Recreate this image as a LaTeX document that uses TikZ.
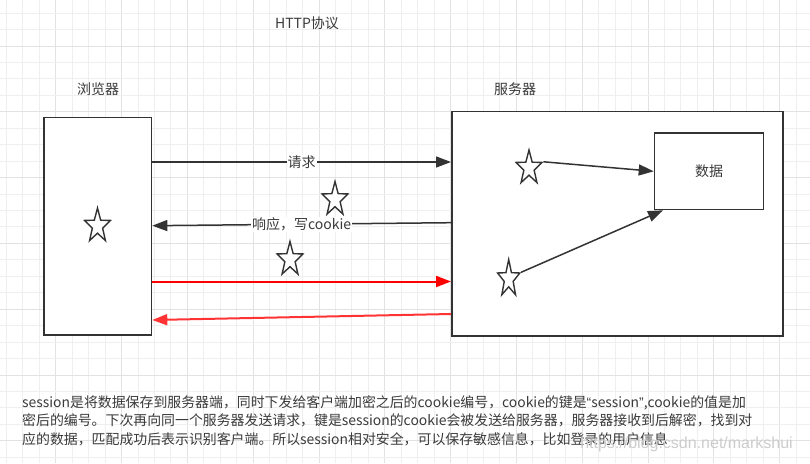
\documentclass[tikz,border=0pt]{standalone}
\usepackage{fontspec}
\setmainfont{Noto Sans CJK SC}
\newfontfamily\wmfont{Liberation Sans}
\usetikzlibrary{shapes.geometric, arrows.meta}
\definecolor{ink}{HTML}{333333}
\definecolor{txt}{HTML}{3A3A3A}
\definecolor{gridminor}{HTML}{EFEFEF}
\definecolor{gridmajor}{HTML}{E2E2E2}
\definecolor{redline}{HTML}{FF0000}
\definecolor{redline2}{HTML}{FF3333}
\tikzset{
  box/.style={draw=ink, line width=1.6pt, fill=white, inner sep=0pt},
  starnode/.style={star, star points=5, star point ratio=2.5, draw=ink, fill=white,
     line width=1.4pt, minimum size=36pt, inner sep=0pt, xscale=0.75},
  arr/.style={draw=ink, line width=1.5pt, -{Triangle[length=15pt, width=11pt]}},
  redarr/.style={color=redline, draw=redline, line width=2pt, -{Triangle[length=15pt, width=11pt]}},
  lbl/.style={text=txt, font=\fontsize{14}{16}\selectfont, inner sep=1pt},
  onlbl/.style={lbl, fill=white},
  para/.style={text=txt, font=\fontsize{13.9}{16}\selectfont, anchor=west, inner sep=0pt},
}
\begin{document}
\begin{tikzpicture}[x=1pt, y=-1pt]
\useasboundingbox (0,0) rectangle (810,463);
\fill[white] (0,0) rectangle (810,463);
% grid
\foreach \i in {0,...,49}{
  \pgfmathsetmacro{\gx}{6.35+\i*16.45}
  \pgfmathtruncatemacro{\m}{mod(\i,4)==3}
  \ifnum\m=1 \draw[gridmajor, line width=0.8pt] (\gx,0) -- (\gx,463);
  \else \draw[gridminor, line width=0.8pt] (\gx,0) -- (\gx,463); \fi
}
\foreach \j in {0,...,28}{
  \pgfmathsetmacro{\gy}{13+\j*16.45}
  \pgfmathtruncatemacro{\m}{mod(\j,4)==2}
  \ifnum\m=1 \draw[gridmajor, line width=0.8pt] (0,\gy) -- (810,\gy);
  \else \draw[gridminor, line width=0.8pt] (0,\gy) -- (810,\gy); \fi
}
% titles
\node[lbl] (title) at (307,23) {HTTP协议};
\node[lbl] (lbrowser) at (98,89) {浏览器};
\node[lbl] (lserver) at (515,89) {服务器};
% boxes
\node[box, anchor=north west, minimum width=107.4pt, minimum height=217.3pt] (browser) at (43.3,116.7) {};
\node[box, anchor=north west, minimum width=331.3pt, minimum height=224.3pt] (server) at (451,110.7) {};
\node[box, anchor=north west, minimum width=109pt, minimum height=76.4pt, lbl, inner sep=0pt] (data) at (653.7,132.3) {数据};
% stars
\node[starnode] (sb) at (97.5,226) {};
\node[starnode] (sm1) at (335,199.5) {};
\node[starnode] (sm2) at (290,259.5) {};
\node[starnode] (ss1) at (529,168) {};
\node[starnode, minimum size=39pt, xscale=0.8] (ss2) at (508.7,279) {};
% arrows between browser and server
\draw[arr] ([yshift=-45.3pt]browser.north east) -- node[onlbl] (lreq) {请求} ([yshift=-51.3pt]server.north west);
\draw[arr] ([yshift=-112pt]server.north west) -- node[onlbl, pos=0.5] (lresp) {响应，写cookie} ([yshift=-109pt]browser.north east);
\draw[redarr] ([yshift=-164.8pt]browser.north east) -- ([yshift=-170.8pt]server.north west);
\draw[redarr, color=redline2, draw=redline2] ([yshift=-203.3pt]server.north west) -- ([yshift=-203.3pt]browser.north east);
% arrows inside server
\draw[arr] (ss1.outer point 5) -- (data.west);
\draw[arr] (ss2.outer point 5) -- ([xshift=9.3pt]data.south west);
% paragraph
\node[para] (p1) at (22,402.7) {session是将数据保存到服务器端，同时下发给客户端加密之后的cookie编号，cookie的键是{\wmfont “}session{\wmfont ”},cookie的值是加};
\node[para] (p2) at (22,420.8) {密后的编号。下次再向同一个服务器发送请求，键是session的cookie会被发送给服务器，服务器接收到后解密，找到对};
\node[para] (p3) at (22,439) {应的数据，匹配成功后表示识别客户端。所以session相对安全，可以保存敏感信息，比如登录的用户信息};
% watermark
\node[text=black!20, font=\wmfont\fontsize{16}{18}\selectfont, anchor=east, inner sep=0pt] (wm) at (793,444) {https://blog.csdn.net/markshui};
\end{tikzpicture}
\end{document}
